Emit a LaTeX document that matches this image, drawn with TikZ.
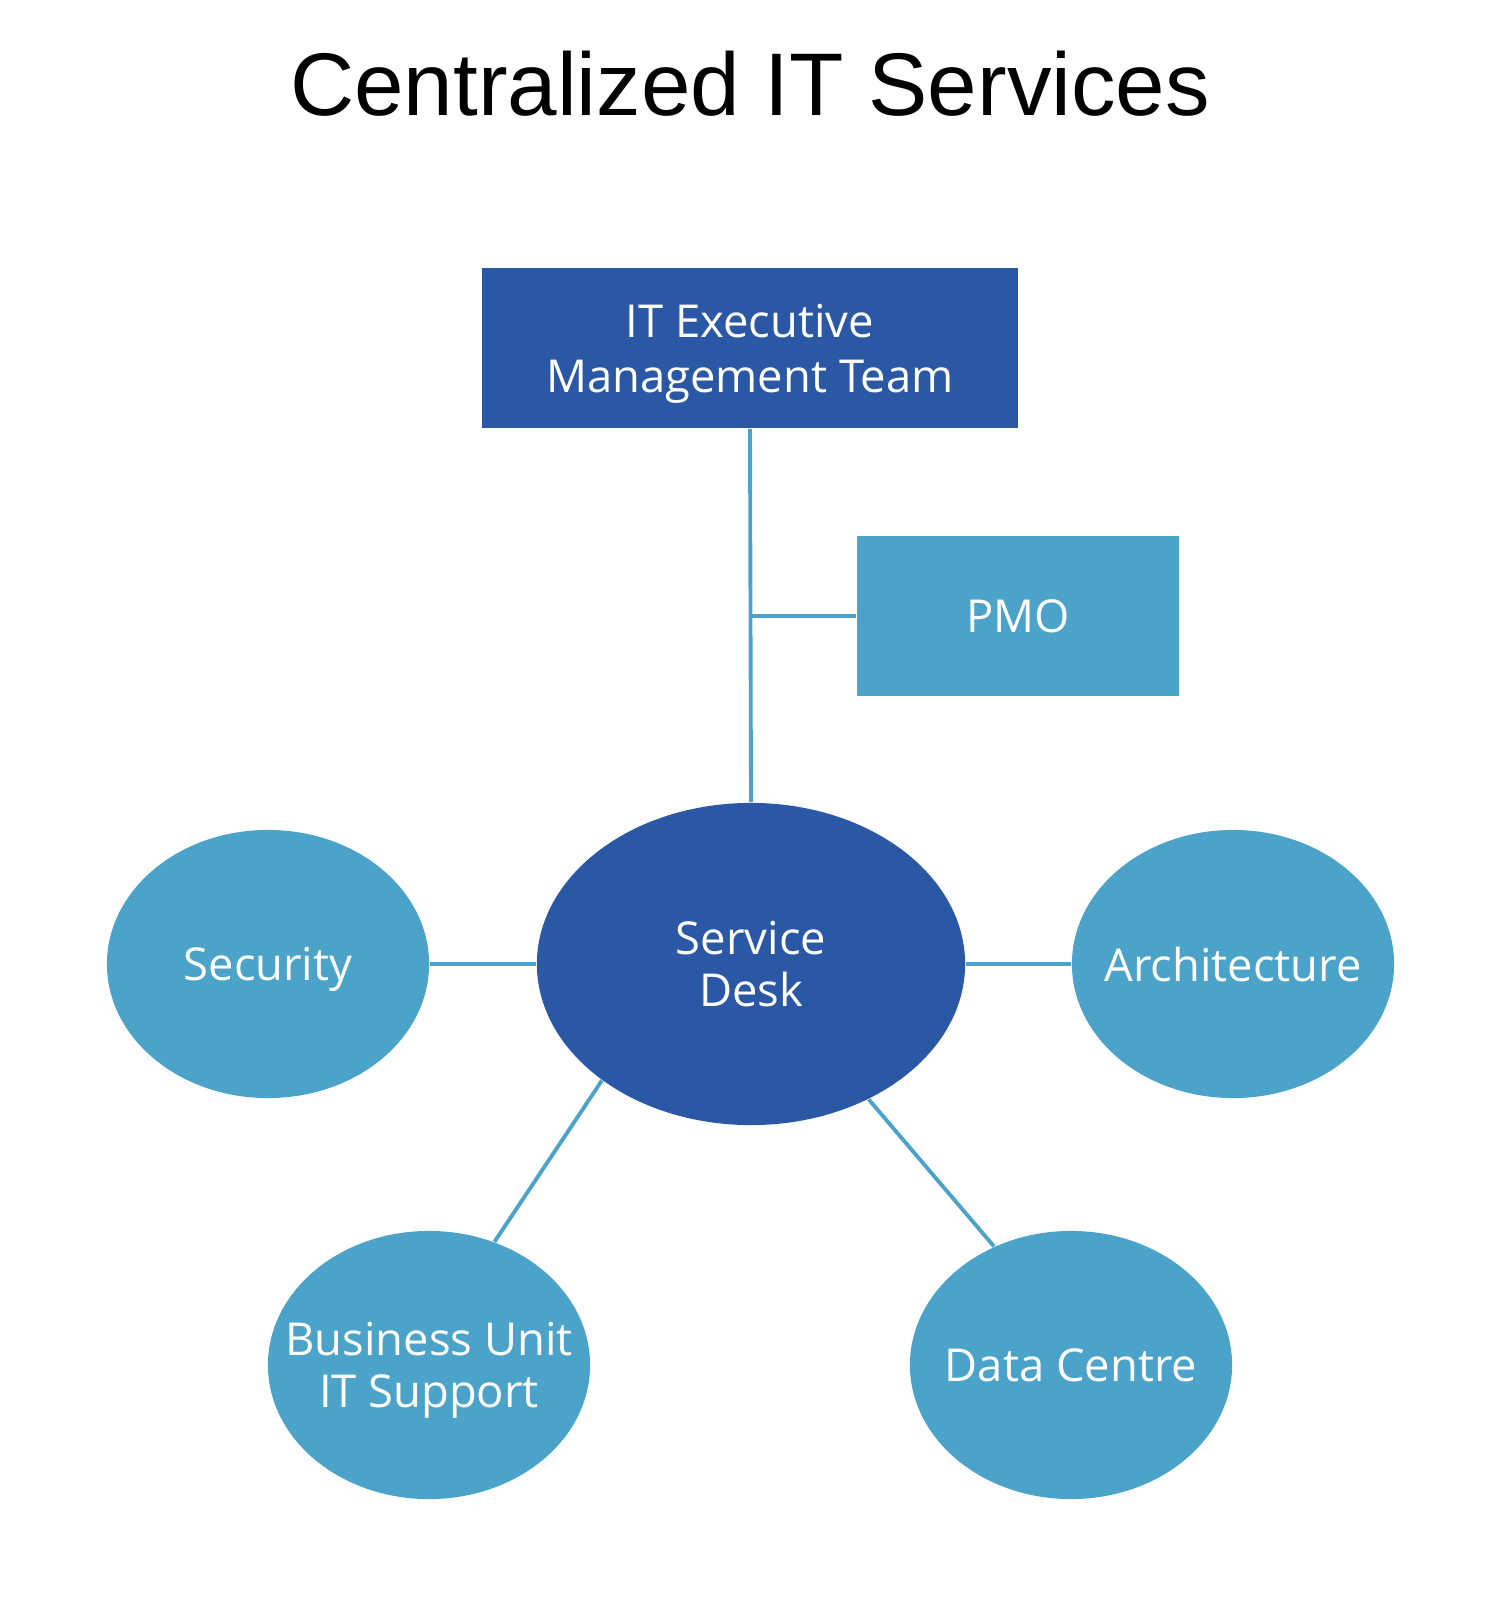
\documentclass[tikz,border=0pt]{standalone}
\usepackage{fontspec}
\setmainfont{Open Sans}
\newfontfamily\titlefont{Liberation Sans}
\usepackage{tikz}
\usetikzlibrary{shapes.geometric}

\definecolor{deskblue}{HTML}{2B58A5}
\definecolor{unitblue}{HTML}{4BA3C9}

\tikzset{
  unitbox/.style={rectangle, fill=#1, text=white, inner sep=0pt, align=center, text depth=0pt,
    font=\fontsize{12.9}{15.6}\selectfont},
  unitoval/.style={ellipse, fill=#1, inner sep=0pt},
  ovaltext/.style={text=white, align=center, text depth=0pt, font=\fontsize{12.9}{14.6}\selectfont},
  link/.style={draw=unitblue, line width=1.1pt}
}

\begin{document}
\begin{tikzpicture}[x=0.01cm,y=-0.01cm]
   \useasboundingbox (0,0) rectangle (1500,1606);
   \draw (750,115) node[anchor=base, font=\titlefont\fontsize{25.3}{30}\selectfont] (title) {Centralized IT Services};

   \draw (750,348) node[unitbox=deskblue, minimum width=5.36cm, minimum height=1.6cm] (exec) {IT Executive\\Management Team};
   \draw (1018,616) node[unitbox=unitblue, minimum width=3.22cm, minimum height=1.6cm] (pmo) {PMO};

   \draw (751,964) node[unitoval=deskblue, minimum width=4.28cm, minimum height=3.22cm,
      label={[ovaltext]center:Service\\Desk}] (desk) {};
   \draw (268,964) node[unitoval=unitblue, minimum width=3.22cm, minimum height=2.68cm,
      label={[ovaltext]center:Security}] (security) {};
   \draw (1233,964) node[unitoval=unitblue, minimum width=3.22cm, minimum height=2.68cm,
      label={[ovaltext]center:Architecture}] (architecture) {};
   \draw (429,1365) node[unitoval=unitblue, minimum width=3.22cm, minimum height=2.68cm,
      label={[ovaltext]center:Business Unit\\IT Support}] (buit) {};
   \draw (1071,1365) node[unitoval=unitblue, minimum width=3.22cm, minimum height=2.68cm,
      label={[ovaltext]center:Data Centre}] (datacentre) {};

   \coordinate (pmojoin) at (exec.south |- pmo.west);

     \path[link] (exec.south) edge (desk.north);
     \path[link] (pmojoin) edge (pmo.west);
     \path[link] (security) edge (desk);
     \path[link] (desk) edge (architecture);
     \path[link] (desk.218) edge (buit.62);
     \path[link] (desk.311) edge (datacentre.123);

\end{tikzpicture}
\end{document}
